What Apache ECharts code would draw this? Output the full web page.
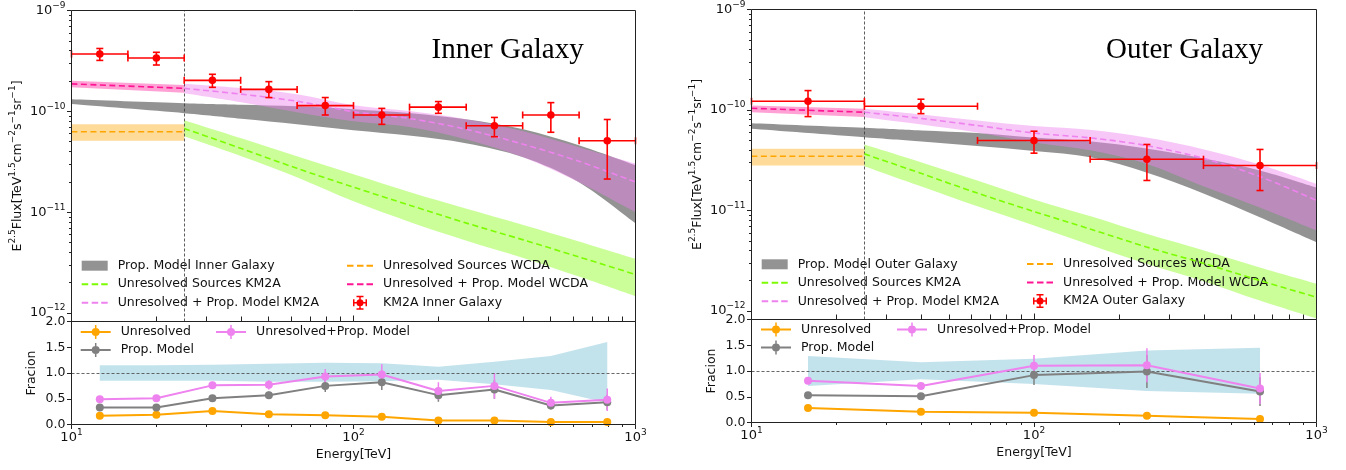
<!DOCTYPE html>
<html><head><meta charset="utf-8">
<script src="https://cdn.jsdelivr.net/npm/echarts@6/dist/echarts.min.js"></script>
<style>html,body{margin:0;padding:0;background:#fff}#c{width:1346px;height:470px}</style>
</head><body><div id="c"></div><script>
// ================= DATA =================
// ---- Inner Galaxy : KM2A measurement ----
const innerE      = [12.6, 20.0, 31.6, 50.1, 79.4, 126, 200, 316, 501, 794];
const innerELo    = [10, 15.85, 25.1, 39.8, 63.1, 100, 158, 251, 398, 631];
const innerEHi    = [15.85, 25.1, 39.8, 63.1, 100, 158, 251, 398, 631, 1000];
const innerFlux   = [3.7e-10, 3.38e-10, 2.03e-10, 1.65e-10, 1.14e-10, 9.2e-11, 1.10e-10, 7.2e-11, 9.2e-11, 5.1e-11];
const innerFluxHi = [4.2e-10, 3.85e-10, 2.33e-10, 1.97e-10, 1.37e-10, 1.07e-10, 1.25e-10, 8.7e-11, 1.22e-10, 8.3e-11];
const innerFluxLo = [3.2e-10, 2.88e-10, 1.73e-10, 1.37e-10, 9.2e-11, 7.43e-11, 9.55e-11, 5.6e-11, 6.2e-11, 2.13e-11];
// ---- model energies ----
const wcdaE = [10, 25.1];
const propE = [10, 25.1, 40, 63, 100, 160, 250, 400, 630, 1000];
const km2aE = [25.1, 40, 63, 100, 160, 250, 400, 630, 1000];
// ---- Inner Galaxy : models ----
const innerWcdaUnres   = [6.28e-11, 6.28e-11];
const innerWcdaUnresLo = [5.1e-11, 5.1e-11];
const innerWcdaUnresHi = [7.43e-11, 7.43e-11];
const innerWcdaTotal   = [1.87e-10, 1.69e-10];
const innerWcdaTotalLo = [1.73e-10, 1.53e-10];
const innerWcdaTotalHi = [2.01e-10, 1.82e-10];
const innerPropLo = [1.18e-10, 9.59e-11, 8.46e-11, 7.46e-11, 6.5e-11, 5.73e-11, 4.83e-11, 3.51e-11, 1.98e-11, 7.75e-12];
const innerPropHi = [1.32e-10, 1.205e-10, 1.165e-10, 1.125e-10, 1.05e-10, 9.59e-11, 8.36e-11, 6.65e-11, 4.61e-11, 2.92e-11];
const innerKm2aUnres   = [6.76e-11, 4.28e-11, 2.72e-11, 1.77e-11, 1.16e-11, 7.83e-12, 5.31e-12, 3.6e-12, 2.41e-12];
const innerKm2aUnresLo = [5.66e-11, 3.59e-11, 2.22e-11, 1.28e-11, 7.92e-12, 5.25e-12, 3.52e-12, 2.3e-12, 1.47e-12];
const innerKm2aUnresHi = [8.17e-11, 5.41e-11, 3.59e-11, 2.38e-11, 1.57e-11, 1.09e-11, 7.48e-12, 5.13e-12, 3.45e-12];
const innerKm2aTotal   = [1.69e-10, 1.48e-10, 1.26e-10, 9.93e-11, 8.45e-11, 6.65e-11, 4.72e-11, 3.2e-11, 1.99e-11];
const innerKm2aTotalLo = [1.51e-10, 1.23e-10, 9.82e-11, 7.98e-11, 6.97e-11, 5.3e-11, 3.51e-11, 1.98e-11, 1.0e-11];
const innerKm2aTotalHi = [1.88e-10, 1.70e-10, 1.48e-10, 1.15e-10, 1.00e-10, 8.36e-11, 6.35e-11, 4.41e-11, 3.03e-11];
// ---- Inner Galaxy : fractions ----
const innerFracUnres    = [0.17, 0.19, 0.26, 0.20, 0.18, 0.15, 0.08, 0.08, 0.05, 0.05];
const innerFracUnresErr = [0.02, 0.02, 0.02, 0.02, 0.02, 0.02, 0.02, 0.02, 0.02, 0.02];
const innerFracProp     = [0.33, 0.33, 0.51, 0.57, 0.75, 0.82, 0.57, 0.68, 0.37, 0.43];
const innerFracPropErr  = [0.03, 0.03, 0.05, 0.07, 0.12, 0.15, 0.13, 0.18, 0.08, 0.15];
const innerFracTotal    = [0.49, 0.51, 0.76, 0.77, 0.93, 0.97, 0.65, 0.75, 0.42, 0.48];
const innerFracTotalErr = [0.03, 0.03, 0.07, 0.09, 0.15, 0.20, 0.17, 0.25, 0.12, 0.22];
const innerFracBandLo   = [0.85, 0.85, 0.85, 0.83, 0.83, 0.84, 0.87, 0.78, 0.67, 0.42];
const innerFracBandHi   = [1.15, 1.15, 1.16, 1.18, 1.20, 1.19, 1.12, 1.22, 1.33, 1.60];

// ---- Outer Galaxy : KM2A measurement ----
const outerE      = [15.85, 39.8, 100, 251, 631];
const outerELo    = [10, 25.1, 63.1, 158, 398];
const outerEHi    = [25.1, 63.1, 158, 398, 1000];
const outerFlux   = [1.22e-10, 1.09e-10, 4.98e-11, 3.24e-11, 2.8e-11];
const outerFluxHi = [1.56e-10, 1.28e-10, 6.15e-11, 4.54e-11, 4.05e-11];
const outerFluxLo = [8.6e-11, 9.2e-11, 3.72e-11, 1.99e-11, 1.58e-11];
// ---- Outer Galaxy : models ----
const outerWcdaUnres   = [3.47e-11, 3.47e-11];
const outerWcdaUnresLo = [2.8e-11, 2.8e-11];
const outerWcdaUnresHi = [4.11e-11, 4.11e-11];
const outerWcdaTotal   = [1.04e-10, 9.5e-11];
const outerWcdaTotalLo = [9.5e-11, 8.5e-11];
const outerWcdaTotalHi = [1.11e-10, 1.03e-10];
const outerPropLo = [6.5e-11, 5.36e-11, 4.86e-11, 4.38e-11, 3.91e-11, 3.37e-11, 2.39e-11, 1.47e-11, 8.57e-12, 4.84e-12];
const outerPropHi = [7.39e-11, 6.65e-11, 6.25e-11, 5.9e-11, 5.32e-11, 4.86e-11, 4.14e-11, 3.29e-11, 2.5e-11, 1.69e-11];
const outerKm2aUnres   = [3.66e-11, 2.33e-11, 1.49e-11, 9.77e-12, 6.47e-12, 4.34e-12, 2.97e-12, 2.01e-12, 1.37e-12];
const outerKm2aUnresLo = [2.76e-11, 1.73e-11, 1.10e-11, 7.1e-12, 4.49e-12, 2.95e-12, 1.97e-12, 1.27e-12, 8.42e-13];
const outerKm2aUnresHi = [4.54e-11, 3.01e-11, 1.99e-11, 1.29e-11, 8.71e-12, 5.86e-12, 4.0e-12, 2.71e-12, 1.87e-12];
const outerKm2aTotal   = [9.51e-11, 8.23e-11, 7.01e-11, 5.9e-11, 5.26e-11, 4.43e-11, 3.29e-11, 2.18e-11, 1.26e-11];
const outerKm2aTotalLo = [8.48e-11, 7.17e-11, 5.97e-11, 4.75e-11, 3.95e-11, 2.92e-11, 1.73e-11, 1.07e-11, 6.33e-12];
const outerKm2aTotalHi = [1.03e-10, 9.02e-11, 7.86e-11, 6.93e-11, 6.33e-11, 5.32e-11, 4.05e-11, 2.87e-11, 1.84e-11];
// ---- Outer Galaxy : fractions ----
const outerFracUnres    = [0.28, 0.21, 0.19, 0.13, 0.07];
const outerFracUnresErr = [0.02, 0.02, 0.02, 0.02, 0.02];
const outerFracProp     = [0.53, 0.51, 0.92, 0.99, 0.60];
const outerFracPropErr  = [0.03, 0.04, 0.19, 0.32, 0.28];
const outerFracTotal    = [0.81, 0.71, 1.10, 1.11, 0.66];
const outerFracTotalErr = [0.04, 0.06, 0.21, 0.33, 0.30];
const outerFracBandLo   = [0.71, 0.84, 0.75, 0.61, 0.56];
const outerFracBandHi   = [1.29, 1.17, 1.24, 1.40, 1.45];

// ---- axes ranges / reference values ----
const energyMin = 10, energyMax = 1000;
const fluxTickMin = 1e-12, fluxMax = 1e-9, fluxUnit = 1e-12;
const fracMin = 0, fracMax = 2, fracStep = 0.5;
const boundaryE = 25.1;   // WCDA / KM2A boundary
const fracRef = 1.0;

// ================= STYLE / LAYOUT =================
const FONT = 'DejaVu Sans', AX = '#222', TXT = '#111';
const RED = '#ff0000';
const C = {
  gray: 'rgba(128,128,128,0.85)',
  green: '#7cfc00', greenBand: 'rgba(124,252,0,0.4)',
  orange: '#ffa500', orangeBand: 'rgba(255,165,0,0.4)',
  violet: '#ee82ee', violetBand: 'rgba(238,130,238,0.45)',
  pink: '#ff1493', pinkBand: 'rgba(255,20,147,0.4)',
  blueBand: 'rgba(173,216,230,0.75)', fracGray: '#808080'
};
const RICH = {
  b: {fontFamily: FONT, fontSize: 13, color: TXT},
  n: {fontFamily: FONT, fontSize: 12.5, color: TXT},
  s: {fontFamily: FONT, fontSize: 9, color: TXT, padding: [0, 0, 10, 0]}
};
function powLabel(n) { return '{b|10}{s|' + (n < 0 ? '\u2212' + (-n) : n) + '}'; }

const ICON_DASH = 'path://M0,0M26,14M0,6h6.5v2h-6.5zM10,6h6.5v2h-6.5zM19.5,6h6.5v2h-6.5z';
const ICON_PATCH = 'path://M0,0M26,14M0,2h26v10h-26z';
const ICON_ERR = 'path://M0,0M26,14M6,6.25h14v1.5h-14zM12.25,0h1.5v14h-1.5zM6,3.5h1.5v7h-1.5zM18.5,3.5h1.5v7h-1.5zM9.5,0h7v1.5h-7zM9.5,12.5h7v1.5h-7zM9.5,7a3.5,3.5 0 1,1 7,0a3.5,3.5 0 1,1 -7,0z';
const ICON_FRAC = 'path://M0,0M30,14M0,6h30v2h-30zM14.25,0h1.5v14h-1.5zM11,7a4,4 0 1,1 8,0a4,4 0 1,1 -8,0z';

const panels = [
  {left: 71.5, width: 564, top: 10.5, bottom: 321.5, tickBottom: 313, lowBottom: 424.5,
   title: 'Inner Galaxy', titleX: 431.5, propName: 'Prop. Model Inner Galaxy', dataName: 'KM2A Inner Galaxy',
   E: innerE, ELo: innerELo, EHi: innerEHi, F: innerFlux, FLo: innerFluxLo, FHi: innerFluxHi,
   wU: innerWcdaUnres, wULo: innerWcdaUnresLo, wUHi: innerWcdaUnresHi,
   wT: innerWcdaTotal, wTLo: innerWcdaTotalLo, wTHi: innerWcdaTotalHi,
   pLo: innerPropLo, pHi: innerPropHi,
   kU: innerKm2aUnres, kULo: innerKm2aUnresLo, kUHi: innerKm2aUnresHi,
   kT: innerKm2aTotal, kTLo: innerKm2aTotalLo, kTHi: innerKm2aTotalHi,
   fU: innerFracUnres, fUE: innerFracUnresErr, fP: innerFracProp, fPE: innerFracPropErr,
   fT: innerFracTotal, fTE: innerFracTotalErr, fBLo: innerFracBandLo, fBHi: innerFracBandHi,
   leg: [[81.7, 258.7], [347, 258.7]], lowLeg: [[80.7, 325], [216, 325]]},
  {left: 751.5, width: 565, top: 9.5, bottom: 319.5, tickBottom: 311, lowBottom: 422.5,
   title: 'Outer Galaxy', titleX: 1106, propName: 'Prop. Model Outer Galaxy', dataName: 'KM2A Outer Galaxy',
   E: outerE, ELo: outerELo, EHi: outerEHi, F: outerFlux, FLo: outerFluxLo, FHi: outerFluxHi,
   wU: outerWcdaUnres, wULo: outerWcdaUnresLo, wUHi: outerWcdaUnresHi,
   wT: outerWcdaTotal, wTLo: outerWcdaTotalLo, wTHi: outerWcdaTotalHi,
   pLo: outerPropLo, pHi: outerPropHi,
   kU: outerKm2aUnres, kULo: outerKm2aUnresLo, kUHi: outerKm2aUnresHi,
   kT: outerKm2aTotal, kTLo: outerKm2aTotalLo, kTHi: outerKm2aTotalHi,
   fU: outerFracUnres, fUE: outerFracUnresErr, fP: outerFracProp, fPE: outerFracPropErr,
   fT: outerFracTotal, fTE: outerFracTotalErr, fBLo: outerFracBandLo, fBHi: outerFracBandHi,
   leg: [[761.7, 257.3], [1027, 257]], lowLeg: [[761, 322.6], [897, 322.6]]}
];

// ================= SERIES BUILDERS =================
// Catmull-Rom -> cubic Bezier through already-projected points (rendering only)
function smoothSegs(pts) {
  let d = '';
  for (let i = 0; i < pts.length - 1; i++) {
    const p0 = pts[i - 1] || pts[i], p1 = pts[i], p2 = pts[i + 1], p3 = pts[i + 2] || pts[i + 1];
    const c1 = [p1[0] + (p2[0] - p0[0]) / 6, p1[1] + (p2[1] - p0[1]) / 6];
    const c2 = [p2[0] - (p3[0] - p1[0]) / 6, p2[1] - (p3[1] - p1[1]) / 6];
    d += 'C' + c1[0] + ',' + c1[1] + ' ' + c2[0] + ',' + c2[1] + ' ' + p2[0] + ',' + p2[1];
  }
  return d;
}
function bandSeries(gi, E, lo, hi, fill, z, name, smooth) {
  const s = {
    type: 'custom', xAxisIndex: gi, yAxisIndex: gi, z: z, clip: true, silent: true,
    itemStyle: {color: fill},
    data: E.map((e, i) => [e, lo[i], hi[i]]),
    encode: {x: 0, y: [1, 2]},
    renderItem(params, api) {
      if (params.dataIndexInside !== 0) return null;
      const up = [], dn = [];
      for (let i = 0; i < E.length; i++) up.push(api.coord([E[i], hi[i]]));
      for (let i = E.length - 1; i >= 0; i--) dn.push(api.coord([E[i], lo[i]]));
      if (smooth === false) {
        return {type: 'polygon', shape: {points: up.concat(dn)}, style: {fill: fill}};
      }
      const d = 'M' + up[0][0] + ',' + up[0][1] + smoothSegs(up) +
                'L' + dn[0][0] + ',' + dn[0][1] + smoothSegs(dn) + 'Z';
      return {type: 'path', shape: {pathData: d}, style: {fill: fill}};
    }
  };
  if (name) s.name = name;
  return s;
}
function curve(name, gi, E, vals, color, z, extra) {
  return Object.assign({
    type: 'line', name: name, xAxisIndex: gi, yAxisIndex: gi, z: z, silent: true, clip: true,
    data: E.map((e, i) => [e, vals[i]]), symbol: 'none', showSymbol: false, smooth: 0.3,
    itemStyle: {color: color}, lineStyle: {color: color, width: 1.6, type: [6, 3.5]}
  }, extra || {});
}
function dataErrSeries(name, gi, P) {
  return {
    type: 'custom', name: name, xAxisIndex: gi, yAxisIndex: gi, z: 20, clip: false, silent: true,
    itemStyle: {color: RED},
    data: P.E.map((e, i) => [e, P.F[i], P.ELo[i], P.EHi[i], P.FLo[i], P.FHi[i]]),
    encode: {x: 0, y: 1},
    renderItem(params, api) {
      const c = api.coord([api.value(0), api.value(1)]);
      const l = api.coord([api.value(2), api.value(1)]);
      const r = api.coord([api.value(3), api.value(1)]);
      const b = api.coord([api.value(0), api.value(4)]);
      const t = api.coord([api.value(0), api.value(5)]);
      const st = {stroke: RED, lineWidth: 1.6};
      const cap = 3.5;
      const L = (x1, y1, x2, y2) => ({type: 'line', shape: {x1, y1, x2, y2}, style: st});
      return {type: 'group', children: [
        L(l[0], c[1], r[0], c[1]), L(c[0], t[1], c[0], b[1]),
        L(l[0], c[1] - cap, l[0], c[1] + cap), L(r[0], c[1] - cap, r[0], c[1] + cap),
        L(c[0] - cap, t[1], c[0] + cap, t[1]), L(c[0] - cap, b[1], c[0] + cap, b[1]),
        {type: 'circle', shape: {cx: c[0], cy: c[1], r: 3.8}, style: {fill: RED}}
      ]};
    }
  };
}
function fracLine(name, gi, E, v, color, z) {
  return {type: 'line', name: name, xAxisIndex: gi, yAxisIndex: gi, z: z, silent: true,
    data: E.map((e, i) => [e, v[i]]), symbol: 'circle', symbolSize: 8, showSymbol: true,
    itemStyle: {color: color}, lineStyle: {color: color, width: 2}};
}
function fracErr(gi, E, v, err, color, z) {
  return {type: 'custom', xAxisIndex: gi, yAxisIndex: gi, z: z, silent: true, clip: true,
    data: E.map((e, i) => [e, v[i] - err[i], v[i] + err[i]]), encode: {x: 0, y: [1, 2]},
    renderItem(params, api) {
      const a = api.coord([api.value(0), api.value(1)]);
      const b = api.coord([api.value(0), api.value(2)]);
      return {type: 'line', shape: {x1: a[0], y1: a[1], x2: b[0], y2: b[1]}, style: {stroke: color, lineWidth: 1.5}};
    }};
}
function legendBlock(names, icons, pos, iw, gap) {
  return {show: true, orient: 'vertical', left: pos[0], top: pos[1], padding: 0, itemGap: gap,
    itemWidth: iw, itemHeight: 14, selectedMode: false, itemStyle: {borderWidth: 0},
    textStyle: {fontFamily: FONT, fontSize: 12.5, color: TXT, padding: [0, 0, 0, 5]},
    data: names.map((n, i) => ({name: n, icon: icons[i]}))};
}

// ================= BUILD OPTION =================
const grid = [], xAxis = [], yAxis = [], series = [], legend = [], graphic = [];
panels.forEach((P, p) => {
  const g = grid.length; // data grid g, tick-label grid g+1, fraction grid g+2
  const decades = Math.log10(fluxMax / fluxTickMin);
  const decadePx = (P.tickBottom - P.top) / decades;
  const fluxMin = fluxTickMin * Math.pow(10, -(P.bottom - P.tickBottom) / decadePx);

  grid.push({left: P.left, top: P.top, width: P.width, height: P.bottom - P.top, show: false});
  grid.push({left: P.left, top: P.top, width: P.width, height: P.tickBottom - P.top, show: false});
  grid.push({left: P.left, top: P.bottom, width: P.width, height: P.lowBottom - P.bottom, show: false});

  // data grid axes
  xAxis.push({type: 'log', logBase: 10, gridIndex: g, min: energyMin, max: energyMax,
    axisLine: {show: false}, axisLabel: {show: false}, splitLine: {show: false},
    axisTick: {show: true, inside: true, length: 6, lineStyle: {color: AX, width: 1}},
    minorTick: {show: true, splitNumber: 9, length: 5, lineStyle: {color: AX, width: 1}}, minorSplitLine: {show: false}});
  yAxis.push({type: 'log', logBase: 10, gridIndex: g, min: fluxMin, max: fluxMax,
    axisLine: {show: false}, axisLabel: {show: false}, axisTick: {show: false}, splitLine: {show: false},
    name: '{n|E}{s|2.5}{n|Flux[TeV}{s|1.5}{n|cm}{s|\u22122}{n|s}{s|\u22121}{n|sr}{s|\u22121}{n|]}',
    nameLocation: 'middle', nameRotate: 90, nameGap: 44, nameTextStyle: {rich: RICH}});
  // tick-label grid axes
  xAxis.push({type: 'log', logBase: 10, gridIndex: g + 1, min: energyMin, max: energyMax, show: false});
  yAxis.push({type: 'log', logBase: 10, gridIndex: g + 1, min: fluxTickMin / fluxUnit, max: fluxMax / fluxUnit,
    axisLine: {show: false}, splitLine: {show: false},
    axisTick: {show: true, inside: false, length: 4.5, lineStyle: {color: AX, width: 1}},
    minorTick: {show: true, splitNumber: 9, length: 2.5, lineStyle: {color: AX, width: 1}}, minorSplitLine: {show: false},
    axisLabel: {margin: 6, formatter: v => powLabel(Math.round(Math.log10(v * fluxUnit))), rich: RICH}});
  // fraction grid axes
  xAxis.push({type: 'log', logBase: 10, gridIndex: g + 2, min: energyMin, max: energyMax,
    axisLine: {show: false}, splitLine: {show: false},
    axisTick: {show: true, inside: false, length: 4.5, lineStyle: {color: AX, width: 1}},
    minorTick: {show: true, splitNumber: 9, length: 2.5, lineStyle: {color: AX, width: 1}}, minorSplitLine: {show: false},
    axisLabel: {margin: 4, formatter: v => powLabel(Math.round(Math.log10(v))), rich: RICH},
    name: 'Energy[TeV]', nameLocation: 'middle', nameGap: 24,
    nameTextStyle: {fontFamily: FONT, fontSize: 12.5, color: TXT}});
  yAxis.push({type: 'value', gridIndex: g + 2, min: fracMin, max: fracMax, interval: fracStep,
    axisLine: {show: false}, splitLine: {show: false},
    axisTick: {show: true, inside: false, length: 4.5, lineStyle: {color: AX, width: 1}},
    axisLabel: {margin: 6, formatter: v => v.toFixed(1), fontFamily: FONT, fontSize: 12.5, color: TXT},
    name: 'Fracion', nameLocation: 'middle', nameRotate: 90, nameGap: 33,
    nameTextStyle: {fontFamily: FONT, fontSize: 12.5, color: TXT}});

  // ---- main panel series ----
  series.push(bandSeries(g, wcdaE, P.wULo, P.wUHi, C.orangeBand, 1, null, false));
  series.push(bandSeries(g, propE, P.pLo, P.pHi, C.gray, 2, P.propName));
  series.push(bandSeries(g, wcdaE, P.wTLo, P.wTHi, C.pinkBand, 3, null, false));
  series.push(bandSeries(g, km2aE, P.kULo, P.kUHi, C.greenBand, 3));
  series.push(bandSeries(g, km2aE, P.kTLo, P.kTHi, C.violetBand, 4));
  series.push(curve('Unresolved Sources WCDA', g, wcdaE, P.wU, C.orange, 5));
  series.push(curve('Unresolved + Prop. Model WCDA', g, wcdaE, P.wT, C.pink, 5));
  series.push(curve('Unresolved Sources KM2A', g, km2aE, P.kU, C.green, 5, {
    markLine: {silent: true, symbol: 'none', label: {show: false}, animation: false,
      lineStyle: {color: '#333', type: [3, 2], width: 0.8}, data: [{xAxis: boundaryE}]}}));
  series.push(curve('Unresolved + Prop. Model KM2A', g, km2aE, P.kT, C.violet, 5));
  series.push(dataErrSeries(P.dataName, g, P));

  // ---- fraction panel series ----
  series.push(bandSeries(g + 2, P.E, P.fBLo, P.fBHi, C.blueBand, 1, null, false));
  series.push(fracErr(g + 2, P.E, P.fU, P.fUE, C.orange, 4));
  series.push(fracErr(g + 2, P.E, P.fP, P.fPE, C.fracGray, 4));
  series.push(fracErr(g + 2, P.E, P.fT, P.fTE, C.violet, 4));
  series.push(fracLine('Unresolved', g + 2, P.E, P.fU, C.orange, 6));
  series.push(fracLine('Prop. Model', g + 2, P.E, P.fP, C.fracGray, 6));
  series.push(fracLine('Unresolved+Prop. Model', g + 2, P.E, P.fT, C.violet, 6));
  series[series.length - 3].markLine = {silent: true, symbol: 'none', label: {show: false}, animation: false,
    lineStyle: {color: '#555', type: [3, 2], width: 0.9}, data: [{yAxis: fracRef}]};

  // ---- legends ----
  legend.push(legendBlock([P.propName, 'Unresolved Sources KM2A', 'Unresolved + Prop. Model KM2A'],
    [ICON_PATCH, ICON_DASH, ICON_DASH], P.leg[0], 26, 4.5));
  legend.push(legendBlock(['Unresolved Sources WCDA', 'Unresolved + Prop. Model WCDA', P.dataName],
    [ICON_DASH, ICON_DASH, ICON_ERR], P.leg[1], 26, 4.5));
  legend.push(legendBlock(['Unresolved', 'Prop. Model'], [ICON_FRAC, ICON_FRAC], P.lowLeg[0], 30, 4));
  legend.push(legendBlock(['Unresolved+Prop. Model'], [ICON_FRAC], P.lowLeg[1], 30, 4));

  // ---- frames and title ----
  graphic.push({type: 'rect', z: 100, silent: true,
    shape: {x: P.left, y: P.top, width: P.width, height: P.bottom - P.top},
    style: {fill: 'none', stroke: AX, lineWidth: 1}});
  graphic.push({type: 'rect', z: 100, silent: true,
    shape: {x: P.left, y: P.bottom, width: P.width, height: P.lowBottom - P.bottom},
    style: {fill: 'none', stroke: AX, lineWidth: 1}});
  graphic.push({type: 'text', z: 100, silent: true, x: P.titleX, y: 50,
    style: {text: P.title, fontFamily: 'Liberation Serif', fontSize: 29, fill: '#000', align: 'left', verticalAlign: 'middle'}});
});

const chart = echarts.init(document.getElementById('c'), null, {renderer: 'canvas'});
chart.setOption({
  animation: false, backgroundColor: '#fff',
  textStyle: {fontFamily: FONT},
  grid, xAxis, yAxis, series, legend, graphic
});
</script></body></html>
